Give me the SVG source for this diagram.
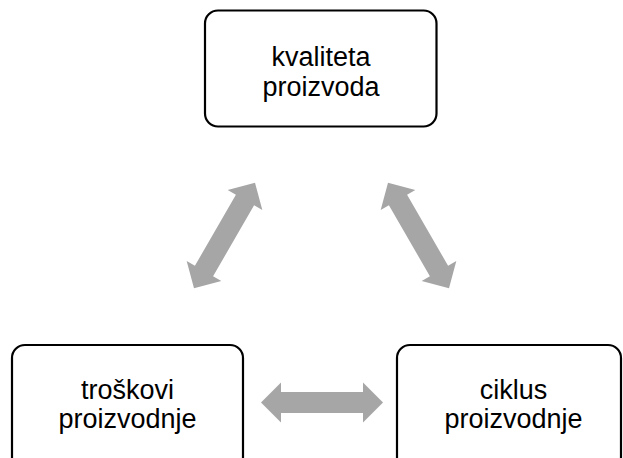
<svg xmlns="http://www.w3.org/2000/svg" width="623" height="458" viewBox="0 0 623 458">
<defs>
<style>
.box{fill:#fff;stroke:#000;stroke-width:2.2}
.lbl{font-family:"Liberation Sans",Arial,sans-serif;font-size:27px;fill:#000;text-anchor:middle}
.arr{fill:#A6A6A6}
</style>
<path id="dbl" d="M-61,0 L-41,-20 L-41,-10.5 L41,-10.5 L41,-20 L61,0 L41,20 L41,10.5 L-41,10.5 L-41,20 Z"/>
</defs>
<rect width="623" height="458" fill="#fff"/>
<g id="connectors" class="arr">
<use href="#dbl" transform="translate(224.5,235.5) rotate(-60)"/>
<use href="#dbl" transform="translate(418.5,235.5) rotate(60)"/>
<use href="#dbl" transform="translate(322,402.5)"/>
</g>
<g id="kvaliteta">
<rect class="box" x="205" y="10.5" width="231.5" height="116" rx="13"/>
<text class="lbl" x="321" y="66">kvaliteta</text>
<text class="lbl" x="321" y="96">proizvoda</text>
</g>
<g id="troskovi">
<rect class="box" x="12" y="345" width="231" height="125" rx="13"/>
<text class="lbl" x="127.5" y="398.5">troškovi</text>
<text class="lbl" x="127.5" y="428">proizvodnje</text>
</g>
<g id="ciklus">
<rect class="box" x="397" y="345" width="224" height="125" rx="13"/>
<text class="lbl" x="513.5" y="398.5">ciklus</text>
<text class="lbl" x="513.5" y="428">proizvodnje</text>
</g>
</svg>
